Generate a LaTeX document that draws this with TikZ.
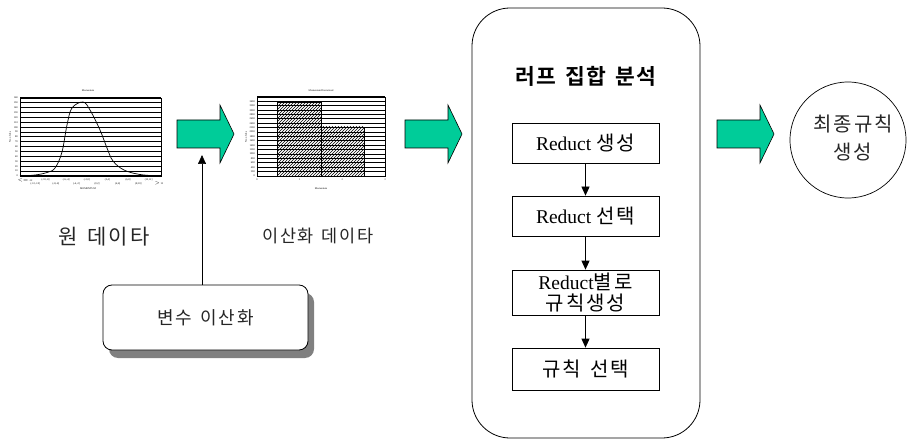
\documentclass[tikz,border=0pt]{standalone}
\usepackage{fontspec}
\setmainfont{Liberation Serif}
\newfontfamily\kr[LetterSpace=10,WordSpace=1.4]{Noto Sans CJK KR}
\newfontfamily\krb[LetterSpace=6,WordSpace=1.5]{Noto Sans CJK KR Bold}
\usetikzlibrary{patterns,arrows.meta,shapes.geometric}
\definecolor{arrowgreen}{RGB}{0,204,153}
\definecolor{shadowgray}{RGB}{128,128,128}
\tikzset{
  blockarrow/.style={draw=black, line width=0.6pt, fill=arrowgreen},
  stepbox/.style={draw=black, line width=0.7pt, minimum width=147pt, align=center, inner sep=0pt},
  conn/.style={line width=0.7pt, -{Triangle[length=9pt,width=8pt]}},
  grid/.style={line width=1pt},
  tiny/.style={font=\fontsize{2.6}{3}\selectfont, inner sep=0pt},
  lbl/.style={font=\kr\fontsize{20}{24}\selectfont, text=black!85}
}
\newcommand{\krs}[1]{{\kr\fontsize{20}{24}\selectfont #1}}
\begin{document}
\begin{tikzpicture}[x=1pt,y=-1pt]
\useasboundingbox (0,0) rectangle (911,441);

% ---------- Chart 1 ----------
\node[tiny] (t1) at (88,91) {Momentum};
\foreach \i in {0,...,16} {\draw[grid] (20,{98+\i*4.875}) -- (161,{98+\i*4.875});}
\draw[line width=0.6pt] (20,98) rectangle (161,176);
\foreach \i [count=\k from 0] in {0,10,20,30,40,50,60,70,80,90,100,110,120,130,140,150,160} {
  \node[tiny, anchor=east] at (18,{176-\k*4.875}) {\i};}
\node[tiny, rotate=90] (ya1) at (10,137) {No of obs};
\draw[line width=0.7pt] plot[smooth, tension=0.6] coordinates {(20,176) (35,175) (47,172.5) (55,168) (62,152) (67,125) (72,108) (83,102) (90,110) (100,130) (107,148) (113,161) (124,170) (140,174.5) (160,176)};
\foreach \lab [count=\k from 0] in {{$<=$ -12},{(-12,-10]},{(-10,-8]},{(-8,-6]},{(-6,-4]},{(-4,-2]},{(-2,0]},{(0,2]},{(2,4]},{(4,6]},{(6,8]},{(8,10]},{(10,12]},{$>$ 12}} {
  \pgfmathsetmacro{\yy}{mod(\k,2)==0 ? 180 : 183.5}
  \node[tiny] at ({25+\k*10.3},\yy) {\lab};}
\node[tiny] (xa1) at (88,189) {MOMENTUM};

% ---------- Chart 2 ----------
\node[tiny] (t2) at (321,91) {Momentum Discretized};
\foreach \i in {0,...,18} {\draw[grid] (257,{97+\i*4.39}) -- (385,{97+\i*4.39});}
\draw[pattern=north east lines, line width=0.8pt] (277,102) rectangle (321,176);
\draw[pattern=north east lines, line width=0.8pt] (321,127) rectangle (364,176);
\draw[line width=0.6pt] (257,97) rectangle (385,176);
\foreach \i [count=\k from 0] in {0,200,400,600,800,1000,1200,1400,1600,1800,2000,2200,2400,2600,2800,3000,3200,3400} {
  \node[tiny, anchor=east] at (255,{176-\k*4.39}) {\i};}
\node[tiny, rotate=90] (ya2) at (246,137) {No of obs};
\foreach \i [count=\k from 0] in {0,1,2,3} {\node[tiny] at ({257+\k*42.67},180) {\i};}
\node[tiny] (xa2) at (321,189) {Momentum};

% ---------- labels ----------
\node[lbl, font=\kr\fontsize{21}{24}\selectfont] (raw) at (104,237) {원 데이타};
\node[lbl, font=\kr\fontsize{17.5}{21}\selectfont] (disc) at (318,236) {이산화 데이타};

% ---------- discretization box ----------
\fill[shadowgray, rounded corners=9pt] (109,293) rectangle (314,358);
\node[draw=black, line width=0.8pt, fill=white, rounded corners=9pt, minimum width=205pt, minimum height=65pt, font=\kr\fontsize{18}{21}\selectfont, text=black!85] (var) at (205.5,317.5) {변수 이산화};
\coordinate (vtip) at (202,155);
\draw[conn] (var.north -| vtip) -- (vtip);

% ---------- block arrows ----------
\foreach \x in {177,405,717} {
  \draw[blockarrow] (\x,120) -- ({\x+43},120) -- ({\x+43},105) -- ({\x+57},134) -- ({\x+43},163) -- ({\x+43},148) -- (\x,148) -- cycle;
}

% ---------- rough set analysis ----------
\node[draw=black, line width=0.8pt, rounded corners=38pt, minimum width=228pt, minimum height=430pt] (rough) at (586,223) {};
\node[font=\krb\fontsize{21.5}{25}\selectfont] (title) at (586,76) {러프 집합 분석};
\node[stepbox, minimum height=40pt, font=\fontsize{19.5}{22}\selectfont] (s1) at (585.5,143) {Reduct \krs{생성}};
\node[stepbox, minimum height=40pt, font=\fontsize{19.5}{22}\selectfont] (s2) at (585.5,216) {Reduct \krs{선택}};
\node[stepbox, minimum height=45pt, font=\fontsize{19.5}{22}\selectfont] (s3) at (585.5,292.5) {Reduct\krs{별로}\\[-1pt]\krs{규칙생성}};
\node[stepbox, minimum height=42pt] (s4) at (585.5,369) {\krs{규칙 선택}};
\draw[conn] (s1) -- (s2);
\draw[conn] (s2) -- (s3);
\draw[conn] (s3) -- (s4);

% ---------- final ----------
\node[draw=black, line width=0.7pt, circle, minimum size=116pt, inner sep=0pt] (final) at (848,140) {};
\node[align=center, font=\kr\fontsize{20}{28}\selectfont, text=black!85] (finaltext) at (853,138) {최종규칙\\생성};
\end{tikzpicture}
\end{document}
